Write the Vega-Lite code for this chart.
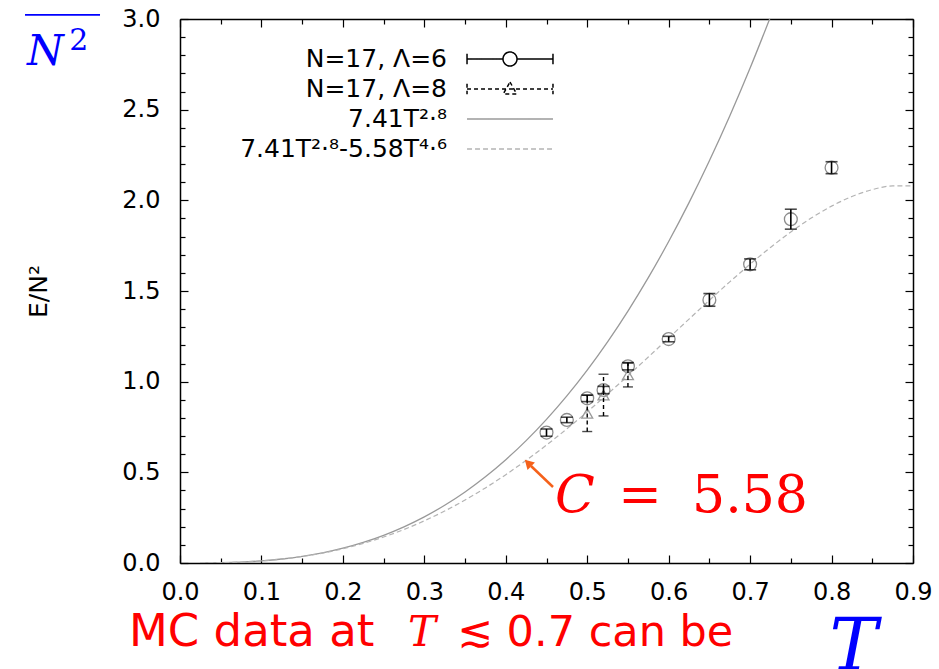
{
  "$schema": "https://vega.github.io/schema/vega-lite/v6.json",
  "width": 733,
  "height": 544,
  "autosize": {"type": "none"},
  "padding": {"left": 180, "top": 19, "right": 26, "bottom": 106},
  "background": "white",
  "config": {
    "view": {"stroke": null},
    "axis": {
      "grid": false,
      "domainColor": "black",
      "domainWidth": 1.5,
      "tickColor": "black",
      "tickWidth": 1.2,
      "labelFont": "DejaVu Sans",
      "labelFontSize": 24,
      "labelColor": "black",
      "titleFont": "DejaVu Sans",
      "titleFontWeight": "normal",
      "titleColor": "black"
    }
  },
  "datasets": {
    "curves": [
      {"T": 0.025, "E": 0.00024, "series": "7.41T²·⁸"},
      {"T": 0.05, "E": 0.00169, "series": "7.41T²·⁸"},
      {"T": 0.075, "E": 0.00525, "series": "7.41T²·⁸"},
      {"T": 0.1, "E": 0.01174, "series": "7.41T²·⁸"},
      {"T": 0.125, "E": 0.02195, "series": "7.41T²·⁸"},
      {"T": 0.15, "E": 0.03655, "series": "7.41T²·⁸"},
      {"T": 0.175, "E": 0.05625, "series": "7.41T²·⁸"},
      {"T": 0.2, "E": 0.08177, "series": "7.41T²·⁸"},
      {"T": 0.225, "E": 0.11371, "series": "7.41T²·⁸"},
      {"T": 0.25, "E": 0.15277, "series": "7.41T²·⁸"},
      {"T": 0.275, "E": 0.19955, "series": "7.41T²·⁸"},
      {"T": 0.3, "E": 0.25455, "series": "7.41T²·⁸"},
      {"T": 0.325, "E": 0.31849, "series": "7.41T²·⁸"},
      {"T": 0.35, "E": 0.39193, "series": "7.41T²·⁸"},
      {"T": 0.375, "E": 0.47546, "series": "7.41T²·⁸"},
      {"T": 0.4, "E": 0.56964, "series": "7.41T²·⁸"},
      {"T": 0.425, "E": 0.67503, "series": "7.41T²·⁸"},
      {"T": 0.45, "E": 0.79215, "series": "7.41T²·⁸"},
      {"T": 0.475, "E": 0.92165, "series": "7.41T²·⁸"},
      {"T": 0.5, "E": 1.06398, "series": "7.41T²·⁸"},
      {"T": 0.525, "E": 1.21976, "series": "7.41T²·⁸"},
      {"T": 0.55, "E": 1.38943, "series": "7.41T²·⁸"},
      {"T": 0.575, "E": 1.57358, "series": "7.41T²·⁸"},
      {"T": 0.6, "E": 1.77277, "series": "7.41T²·⁸"},
      {"T": 0.625, "E": 1.98737, "series": "7.41T²·⁸"},
      {"T": 0.65, "E": 2.21811, "series": "7.41T²·⁸"},
      {"T": 0.675, "E": 2.46531, "series": "7.41T²·⁸"},
      {"T": 0.7, "E": 2.72955, "series": "7.41T²·⁸"},
      {"T": 0.725, "E": 3.01135, "series": "7.41T²·⁸"}
    ],
    "fit": [
      {"T": 0.025, "E": 0.00024, "series": "7.41T²·⁸-5.58T⁴·⁶"},
      {"T": 0.05, "E": 0.00168, "series": "7.41T²·⁸-5.58T⁴·⁶"},
      {"T": 0.075, "E": 0.00521, "series": "7.41T²·⁸-5.58T⁴·⁶"},
      {"T": 0.1, "E": 0.0116, "series": "7.41T²·⁸-5.58T⁴·⁶"},
      {"T": 0.125, "E": 0.02156, "series": "7.41T²·⁸-5.58T⁴·⁶"},
      {"T": 0.15, "E": 0.03564, "series": "7.41T²·⁸-5.58T⁴·⁶"},
      {"T": 0.175, "E": 0.05441, "series": "7.41T²·⁸-5.58T⁴·⁶"},
      {"T": 0.2, "E": 0.07837, "series": "7.41T²·⁸-5.58T⁴·⁶"},
      {"T": 0.225, "E": 0.10787, "series": "7.41T²·⁸-5.58T⁴·⁶"},
      {"T": 0.25, "E": 0.14329, "series": "7.41T²·⁸-5.58T⁴·⁶"},
      {"T": 0.275, "E": 0.18485, "series": "7.41T²·⁸-5.58T⁴·⁶"},
      {"T": 0.3, "E": 0.2326, "series": "7.41T²·⁸-5.58T⁴·⁶"},
      {"T": 0.325, "E": 0.28677, "series": "7.41T²·⁸-5.58T⁴·⁶"},
      {"T": 0.35, "E": 0.34733, "series": "7.41T²·⁸-5.58T⁴·⁶"},
      {"T": 0.375, "E": 0.4142, "series": "7.41T²·⁸-5.58T⁴·⁶"},
      {"T": 0.4, "E": 0.4872, "series": "7.41T²·⁸-5.58T⁴·⁶"},
      {"T": 0.425, "E": 0.56608, "series": "7.41T²·⁸-5.58T⁴·⁶"},
      {"T": 0.45, "E": 0.65044, "series": "7.41T²·⁸-5.58T⁴·⁶"},
      {"T": 0.475, "E": 0.73992, "series": "7.41T²·⁸-5.58T⁴·⁶"},
      {"T": 0.5, "E": 0.83389, "series": "7.41T²·⁸-5.58T⁴·⁶"},
      {"T": 0.525, "E": 0.93178, "series": "7.41T²·⁸-5.58T⁴·⁶"},
      {"T": 0.55, "E": 1.03273, "series": "7.41T²·⁸-5.58T⁴·⁶"},
      {"T": 0.575, "E": 1.13595, "series": "7.41T²·⁸-5.58T⁴·⁶"},
      {"T": 0.6, "E": 1.24051, "series": "7.41T²·⁸-5.58T⁴·⁶"},
      {"T": 0.625, "E": 1.34515, "series": "7.41T²·⁸-5.58T⁴·⁶"},
      {"T": 0.65, "E": 1.44891, "series": "7.41T²·⁸-5.58T⁴·⁶"},
      {"T": 0.675, "E": 1.5503, "series": "7.41T²·⁸-5.58T⁴·⁶"},
      {"T": 0.7, "E": 1.64791, "series": "7.41T²·⁸-5.58T⁴·⁶"},
      {"T": 0.725, "E": 1.74023, "series": "7.41T²·⁸-5.58T⁴·⁶"},
      {"T": 0.75, "E": 1.82562, "series": "7.41T²·⁸-5.58T⁴·⁶"},
      {"T": 0.775, "E": 1.90213, "series": "7.41T²·⁸-5.58T⁴·⁶"},
      {"T": 0.8, "E": 1.96793, "series": "7.41T²·⁸-5.58T⁴·⁶"},
      {"T": 0.825, "E": 2.02088, "series": "7.41T²·⁸-5.58T⁴·⁶"},
      {"T": 0.85, "E": 2.05892, "series": "7.41T²·⁸-5.58T⁴·⁶"},
      {"T": 0.875, "E": 2.07939, "series": "7.41T²·⁸-5.58T⁴·⁶"},
      {"T": 0.9, "E": 2.08011, "series": "7.41T²·⁸-5.58T⁴·⁶"}
    ],
    "lambda6": [
      {"T": 0.45, "E": 0.719, "err": 0.02},
      {"T": 0.475, "E": 0.789, "err": 0.015},
      {"T": 0.5, "E": 0.908, "err": 0.018},
      {"T": 0.52, "E": 0.954, "err": 0.02},
      {"T": 0.55, "E": 1.085, "err": 0.02},
      {"T": 0.6, "E": 1.235, "err": 0.015},
      {"T": 0.65, "E": 1.451, "err": 0.035},
      {"T": 0.7, "E": 1.647, "err": 0.03},
      {"T": 0.75, "E": 1.896, "err": 0.055},
      {"T": 0.8, "E": 2.18, "err": 0.033}
    ],
    "lambda8": [
      {"T": 0.5, "E": 0.825, "err": 0.1},
      {"T": 0.52, "E": 0.926, "err": 0.115},
      {"T": 0.55, "E": 1.037, "err": 0.066}
    ]
  },
  "resolve": {"axis": {"x": "independent", "y": "independent"}},
  "layer": [
    {
      "data": {"name": "curves"},
      "mark": {"type": "line", "strokeWidth": 1.3, "clip": true, "interpolate": "monotone"},
      "encoding": {
        "x": {
          "field": "T", "type": "quantitative",
          "scale": {"domain": [0, 0.9], "nice": false, "zero": false},
          "axis": {
            "orient": "bottom",
            "values": [0, 0.1, 0.2, 0.3, 0.4, 0.5, 0.6, 0.7, 0.8, 0.9],
            "format": ".1f",
            "tickSize": -8,
            "labelPadding": 25,
            "labelFlush": false,
            "title": "T",
            "titleFont": "DejaVu Serif",
            "titleFontStyle": "italic",
            "titleFontSize": 72,
            "titleColor": "#0000ff",
            "titleAnchor": "start",
            "titleAlign": "center",
            "titleBaseline": "alphabetic",
            "titleX": 673,
            "titleY": 106
          }
        },
        "y": {
          "field": "E", "type": "quantitative",
          "scale": {"domain": [0, 3], "nice": false, "zero": false},
          "axis": {
            "orient": "left",
            "values": [0, 0.5, 1, 1.5, 2, 2.5, 3],
            "format": ".1f",
            "tickSize": -8,
            "labelPadding": 28,
            "labelFlush": false,
            "title": "E/N²",
            "titleFontSize": 25,
            "titlePadding": 70
          }
        },
        "color": {
          "field": "series", "type": "nominal",
          "scale": {
            "domain": ["N=17, Λ=6", "N=17, Λ=8", "7.41T²·⁸", "7.41T²·⁸-5.58T⁴·⁶"],
            "range": ["black", "black", "#999999", "#b4b4b4"]
          },
          "legend": {
            "orient": "none",
            "legendX": 330,
            "legendY": 40,
            "title": null,
            "padding": 0,
            "rowPadding": 5,
            "labelFont": "DejaVu Sans",
            "labelFontSize": 25,
            "labelColor": "black",
            "labelLimit": 400,
            "symbolSize": 196,
            "encode": {
              "symbols": {
                "update": {
                  "x": {"value": 0},
                  "y": {"value": 0},
                  "shape": {"signal": "datum.index === 0 ? 'M-43,0M-6.14,0H-1M1,0H6.14M-6.14,-0.75V0.75M6.14,-0.75V0.75M1,0A1,1 0 1,1 -1,0A1,1 0 1,1 1,0' : datum.index === 1 ? 'M-43,0M-6.14,0H6.14M-6.14,-0.75V0.75M6.14,-0.75V0.75M0,-1L0.95,0.7L-0.95,0.7Z' : 'M-43,0M-6.14,0H6.14'"},
                  "strokeDash": {"signal": "datum.index === 1 ? [4, 3] : datum.index === 3 ? [5, 3] : [1, 0]"},
                  "strokeWidth": {"signal": "datum.index < 2 ? 1.5 : 1.3"},
                  "fill": {"value": "transparent"}
                }
              },
              "labels": {
                "update": {
                  "x": {"value": -63},
                  "y": {"value": 0},
                  "align": {"value": "right"},
                  "baseline": {"value": "middle"}
                }
              }
            }
          }
        }
      }
    },
    {
      "data": {"name": "fit"},
      "mark": {"type": "line", "strokeWidth": 1.2, "strokeDash": [5, 3], "clip": true, "interpolate": "monotone"},
      "encoding": {
        "x": {
          "field": "T", "type": "quantitative",
          "axis": {
            "orient": "bottom",
            "values": [0.05, 0.15, 0.25, 0.35, 0.45, 0.55, 0.65, 0.75, 0.85],
            "tickSize": -5,
            "labels": false,
            "domain": false,
            "title": null
          }
        },
        "y": {
          "field": "E", "type": "quantitative",
          "axis": {
            "orient": "left",
            "values": [0.1, 0.2, 0.3, 0.4, 0.6, 0.7, 0.8, 0.9, 1.1, 1.2, 1.3, 1.4, 1.6, 1.7, 1.8, 1.9, 2.1, 2.2, 2.3, 2.4, 2.6, 2.7, 2.8, 2.9],
            "tickSize": -5,
            "labels": false,
            "domain": false,
            "title": null
          }
        },
        "color": {"field": "series", "type": "nominal"}
      }
    },
    {
      "data": {"name": "lambda6"},
      "mark": {"type": "point", "shape": "circle", "filled": false, "stroke": "#8c8c8c", "strokeWidth": 1.3, "size": 165, "opacity": 1},
      "encoding": {
        "x": {"field": "T", "type": "quantitative", "axis": null},
        "y": {"field": "E", "type": "quantitative", "axis": null}
      }
    },
    {
      "data": {"name": "lambda8"},
      "mark": {"type": "point", "shape": "triangle-up", "filled": false, "stroke": "#9a9a9a", "strokeWidth": 1.3, "size": 120, "opacity": 1},
      "encoding": {
        "x": {"field": "T", "type": "quantitative", "axis": null},
        "y": {"field": "E", "type": "quantitative", "axis": null}
      }
    },
    {
      "data": {"name": "lambda6"},
      "mark": {"type": "errorbar", "color": "black", "thickness": 1.6, "ticks": {"size": 12, "thickness": 1.6}},
      "encoding": {
        "x": {
          "field": "T", "type": "quantitative",
          "axis": {
            "orient": "top",
            "values": [0, 0.1, 0.2, 0.3, 0.4, 0.5, 0.6, 0.7, 0.8, 0.9],
            "tickSize": -8,
            "labels": false,
            "title": null
          }
        },
        "y": {
          "field": "E", "type": "quantitative",
          "axis": {
            "orient": "right",
            "values": [0, 0.5, 1, 1.5, 2, 2.5, 3],
            "tickSize": -8,
            "labels": false,
            "title": null
          }
        },
        "yError": {"field": "err"}
      }
    },
    {
      "data": {"name": "lambda8"},
      "mark": {"type": "errorbar", "color": "black", "thickness": 1.4, "rule": {"strokeDash": [4, 3]}, "ticks": {"size": 10, "thickness": 1.4}},
      "encoding": {
        "x": {
          "field": "T", "type": "quantitative",
          "axis": {
            "orient": "top",
            "values": [0.05, 0.15, 0.25, 0.35, 0.45, 0.55, 0.65, 0.75, 0.85],
            "tickSize": -5,
            "labels": false,
            "domain": false,
            "title": null
          }
        },
        "y": {
          "field": "E", "type": "quantitative",
          "axis": {
            "orient": "right",
            "values": [0.1, 0.2, 0.3, 0.4, 0.6, 0.7, 0.8, 0.9, 1.1, 1.2, 1.3, 1.4, 1.6, 1.7, 1.8, 1.9, 2.1, 2.2, 2.3, 2.4, 2.6, 2.7, 2.8, 2.9],
            "tickSize": -5,
            "labels": false,
            "domain": false,
            "title": null
          }
        },
        "yError": {"field": "err"}
      }
    },
    {
      "data": {"values": [{}]},
      "layer": [
        {
          "mark": {"type": "rule", "stroke": "#f5611a", "strokeWidth": 2.5},
          "encoding": {
            "x": {"datum": 0.458, "type": "quantitative", "axis": null},
            "y": {"datum": 0.419, "type": "quantitative", "axis": null},
            "x2": {"datum": 0.431},
            "y2": {"datum": 0.535}
          }
        },
        {
          "mark": {"type": "point", "shape": "triangle-up", "filled": true, "fill": "#f5611a", "stroke": null, "size": 110, "angle": 315, "opacity": 1},
          "encoding": {
            "x": {"datum": 0.4273, "type": "quantitative", "axis": null},
            "y": {"datum": 0.5516, "type": "quantitative", "axis": null}
          }
        },
        {
          "mark": {"type": "text", "text": "C", "font": "DejaVu Serif", "fontStyle": "italic", "fontSize": 52, "color": "#ff0000", "align": "left", "baseline": "alphabetic"},
          "encoding": {
            "x": {"datum": 0.4605, "type": "quantitative", "axis": null},
            "y": {"datum": 0.281, "type": "quantitative", "axis": null}
          }
        },
        {
          "mark": {"type": "text", "text": "=", "font": "DejaVu Serif", "fontSize": 52, "color": "#ff0000", "align": "left", "baseline": "alphabetic"},
          "encoding": {
            "x": {"datum": 0.538, "type": "quantitative", "axis": null},
            "y": {"datum": 0.281, "type": "quantitative", "axis": null}
          }
        },
        {
          "mark": {"type": "text", "text": "5.58", "font": "DejaVu Serif", "fontSize": 52, "color": "#ff0000", "align": "left", "baseline": "alphabetic"},
          "encoding": {
            "x": {"datum": 0.6287, "type": "quantitative", "axis": null},
            "y": {"datum": 0.281, "type": "quantitative", "axis": null}
          }
        },
        {
          "mark": {"type": "text", "text": "MC data at", "font": "DejaVu Sans", "fontSize": 45, "color": "#ff0000", "align": "left", "baseline": "alphabetic"},
          "encoding": {
            "x": {"datum": -0.0626, "type": "quantitative", "axis": null},
            "y": {"datum": -0.458, "type": "quantitative", "axis": null}
          }
        },
        {
          "mark": {"type": "text", "text": "T", "font": "DejaVu Serif", "fontStyle": "italic", "fontSize": 42, "color": "#ff0000", "align": "left", "baseline": "alphabetic"},
          "encoding": {
            "x": {"datum": 0.28, "type": "quantitative", "axis": null},
            "y": {"datum": -0.458, "type": "quantitative", "axis": null}
          }
        },
        {
          "mark": {"type": "text", "text": "≲ 0.7 can be", "font": "DejaVu Sans", "fontSize": 43, "color": "#ff0000", "align": "left", "baseline": "alphabetic"},
          "encoding": {
            "x": {"datum": 0.34, "type": "quantitative", "axis": null},
            "y": {"datum": -0.458, "type": "quantitative", "axis": null}
          }
        },
        {
          "mark": {"type": "text", "text": "N", "font": "DejaVu Serif", "fontStyle": "italic", "fontSize": 42, "color": "#0000ff", "align": "left", "baseline": "alphabetic"},
          "encoding": {
            "x": {"datum": -0.1879, "type": "quantitative", "axis": null},
            "y": {"datum": 2.747, "type": "quantitative", "axis": null}
          }
        },
        {
          "mark": {"type": "text", "text": "2", "font": "DejaVu Serif", "fontSize": 30, "color": "#0000ff", "align": "left", "baseline": "alphabetic"},
          "encoding": {
            "x": {"datum": -0.136, "type": "quantitative", "axis": null},
            "y": {"datum": 2.83, "type": "quantitative", "axis": null}
          }
        },
        {
          "mark": {"type": "rule", "stroke": "#0000ff", "strokeWidth": 1.6},
          "encoding": {
            "x": {"datum": -0.1903, "type": "quantitative", "axis": null},
            "x2": {"datum": -0.0982},
            "y": {"datum": 3.0226, "type": "quantitative", "axis": null}
          }
        }
      ]
    }
  ]
}
